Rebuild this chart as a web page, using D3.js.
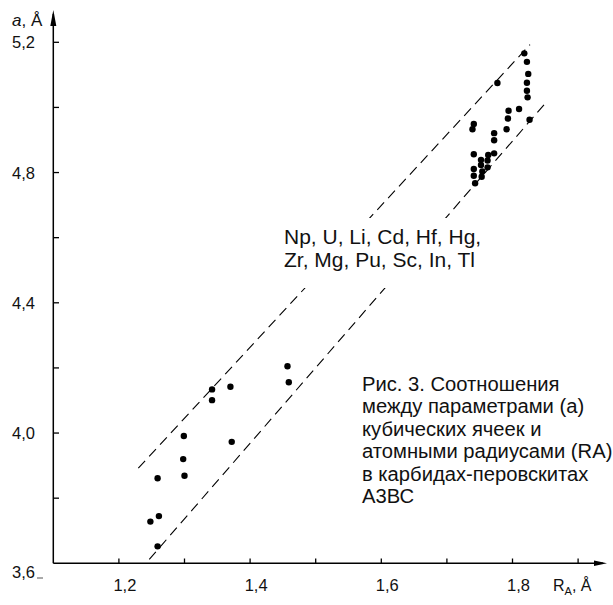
<!DOCTYPE html>
<html><head><meta charset="utf-8">
<script src="https://cdn.jsdelivr.net/npm/d3@7"></script>
<style>body{margin:0;background:#fff}svg{display:block}text{font-family:"Liberation Sans",Arial,sans-serif;fill:#111}</style>
</head><body><div id="chart"></div>
<script>
// Data
const rA = [1.457,1.459,1.342,1.370,1.342,1.299,1.372,1.298,1.300,1.259,1.261,1.248,1.259,
  1.818,1.822,1.824,1.822,1.822,1.823,1.777,1.810,1.826,1.794,1.793,1.791,1.741,1.739,1.772,1.772,
  1.741,1.772,1.763,1.762,1.752,1.752,1.762,1.741,1.754,1.741,1.753,1.743];
const aVals = [4.205,4.156,4.134,4.142,4.101,3.991,3.973,3.920,3.869,3.861,3.745,3.728,3.652,
  5.166,5.140,5.103,5.076,5.051,5.031,5.075,4.995,4.962,4.990,4.966,4.933,4.949,4.933,4.921,4.899,
  4.856,4.859,4.854,4.837,4.839,4.823,4.816,4.811,4.803,4.790,4.787,4.767];
const upperLine = [[1.2296,3.892],[1.8267,5.193]];
const lowerLine = [[1.2463,3.612],[1.851,5.015]];
const xTicks = [1.2,1.3,1.4,1.5,1.6,1.7,1.8,1.9];
const xTickLabels = [1.2,1.4,1.6,1.8];
const yTicks = [3.8,4.0,4.2,4.4,4.6,4.8,5.0,5.2];
const yTickLabels = [3.6,4.0,4.4,4.8,5.2];
const namesLines = ["Np, U, Li, Cd, Hf, Hg,","Zr, Mg, Pu, Sc, In, Tl"];
const captionLines = ["Рис. 3. Соотношения","между параметрами (а)","кубических ячеек и","атомными радиусами (RA)","в карбидах-перовскитах","А3ВС"];

const W=613,H=605;
const svg=d3.select("#chart").append("svg").attr("width",W).attr("height",H);
const x=d3.scaleLinear().domain([1.1,1.9]).range([53.3,578.1]);
const y=d3.scaleLinear().domain([3.6,5.2]).range([563.3,42.3]);
const fmt=v=>d3.format(".1f")(v).replace(".",",");

// axes lines
const g=svg.append("g");
g.append("line").attr("x1",53.3).attr("x2",603).attr("y1",563.3).attr("y2",563.3).attr("stroke","#000").attr("stroke-width",1.5);
g.append("line").attr("x1",53.3).attr("x2",53.3).attr("y1",563.3).attr("y2",14).attr("stroke","#000").attr("stroke-width",1.5);
g.append("path").attr("d","M53.3,10 L50.3,26 L56.3,26 Z").attr("fill","#000");
g.append("path").attr("d","M607,563.3 L594,560.6 L594,566 Z").attr("fill","#000");

// ticks
g.selectAll(".xt").data(xTicks).join("line").attr("x1",d=>x(d)).attr("x2",d=>x(d))
  .attr("y1",563.3).attr("y2",558.5).attr("stroke","#000").attr("stroke-width",1.3);
g.selectAll(".yt").data(yTicks).join("line").attr("y1",d=>y(d)).attr("y2",d=>y(d))
  .attr("x1",53.3).attr("x2",59).attr("stroke","#000").attr("stroke-width",1.3);

// tick labels
g.selectAll(".xl").data(xTickLabels).join("text").attr("x",d=>x(d)+6).attr("y",591)
  .attr("text-anchor","middle").attr("font-size",16.5).text(fmt);
g.selectAll(".yl").data(yTickLabels).join("text").attr("x",35).attr("y",d=>y(d)+(d===3.6?15:6))
  .attr("text-anchor","end").attr("font-size",16.5).text(fmt);
g.append("line").attr("x1",37).attr("x2",43).attr("y1",578).attr("y2",578).attr("stroke","#555").attr("stroke-width",1);

// axis titles
const yt=svg.append("text").attr("x",12).attr("y",26).attr("font-size",17);
yt.append("tspan").attr("font-style","italic").text("a");
yt.append("tspan").text(", Å");
const xt=svg.append("text").attr("x",553).attr("y",591).attr("font-size",16);
xt.append("tspan").text("R");
xt.append("tspan").attr("font-size",11).attr("dy",4).text("A");
xt.append("tspan").attr("dy",-4).text(", Å");

// dashed lines
const line=d3.line().x(d=>x(d[0])).y(d=>y(d[1]));
[upperLine,lowerLine].forEach(l=>svg.append("path").attr("d",line(l)).attr("fill","none")
  .attr("stroke","#000").attr("stroke-width",1.1).attr("stroke-dasharray","10,6"));

// points
svg.selectAll(".pt").data(rA.map((r,i)=>[r,aVals[i]])).join("circle")
  .attr("cx",d=>x(d[0])).attr("cy",d=>y(d[1])).attr("r",3.2).attr("fill","#000");

// annotations (white backing interrupts the dashed lines as in the original)
svg.append("rect").attr("x",272).attr("y",218).attr("width",210).attr("height",70).attr("fill","#fff");
svg.append("g").attr("transform","translate(284,0) scale(1.05,1)")
  .append("text").attr("font-size",20).selectAll("tspan").data(namesLines).join("tspan")
  .attr("x",0).attr("y",(d,i)=>244+i*23).text(d=>d);
svg.append("g").attr("transform","translate(362,0) scale(1.01,1)")
  .append("text").attr("font-size",20).selectAll("tspan").data(captionLines).join("tspan")
  .attr("x",0).attr("y",(d,i)=>390.7+i*22.5).text(d=>d);
</script></body></html>
